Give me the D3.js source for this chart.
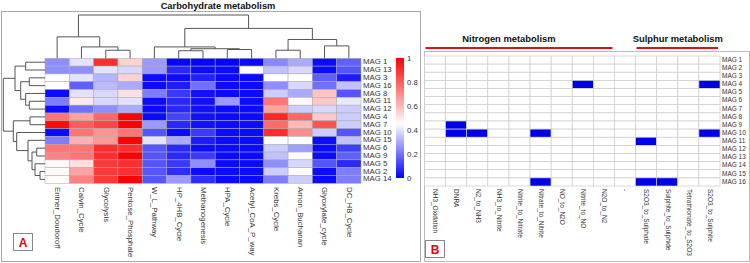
<!DOCTYPE html>
<html>
<head>
<meta charset="utf-8">
<script src="https://cdn.jsdelivr.net/npm/d3@7"></script>
<style>
body{margin:0;background:#fff}
svg{display:block;font-family:"Liberation Sans",Arial,sans-serif}
</style>
</head>
<body>
<div id="graph"></div>
<script>

// panel A: carbohydrate heatmap
var carbPathways = ['Entner_Doudoroff','Calvin_Cycle','Glycolysis','Pentose_Phosphate','W_L_Pathway','HP_4HB_Cycle',
  'Methanogenesis','HPA_Cycle','Acetyl_CoA_P_way','Krebs_Cycle','Arnon_Buchanan','Glyoxylate_cycle','DC_HB_Cycle']
var carbMags = ['MAG 1','MAG 13','MAG 3','MAG 16','MAG 8','MAG 11','MAG 12','MAG 4','MAG 7','MAG 10','MAG 15','MAG 6','MAG 9','MAG 5','MAG 2','MAG 14']
var carbValues = [
  [0.25,0.40,0.90,0.55,0.27,0.01,0.01,0.01,0.02,0.24,0.30,0.02,0.17],
  [0.25,0.25,0.40,0.38,0.27,0.07,0.02,0.02,0.45,0.34,0.38,0.02,0.15],
  [0.45,0.40,0.32,0.55,0.02,0.02,0.06,0.02,0.02,0.45,0.45,0.17,0.05],
  [0.45,0.17,0.33,0.30,0.02,0.05,0.20,0.02,0.02,0.25,0.38,0.20,0.34],
  [0.02,0.40,0.38,0.52,0.22,0.10,0.03,0.02,0.02,0.36,0.30,0.58,0.15],
  [0.22,0.50,0.38,0.40,0.02,0.07,0.03,0.27,0.02,0.75,0.46,0.57,0.41],
  [0.02,0.20,0.25,0.30,0.02,0.07,0.03,0.02,0.02,0.65,0.36,0.38,0.36],
  [0.75,0.65,0.78,1.00,0.02,0.12,0.03,0.02,0.02,0.92,0.78,0.57,0.36],
  [0.98,0.80,0.85,1.00,0.27,0.07,0.03,0.02,0.02,0.77,0.60,0.82,0.36],
  [0.02,0.75,0.68,0.75,0.15,0.02,0.10,0.02,0.02,0.90,0.70,0.36,0.15],
  [0.22,0.62,0.67,1.00,0.40,0.30,0.05,0.02,0.02,0.45,0.45,0.02,0.34],
  [0.75,0.75,0.90,0.90,0.15,0.07,0.02,0.02,0.02,0.36,0.28,0.02,0.11],
  [0.72,0.75,0.90,1.00,0.15,0.07,0.10,0.02,0.02,0.34,0.46,0.02,0.17],
  [0.46,0.52,0.88,0.90,0.15,0.10,0.25,0.02,0.02,0.25,0.38,0.15,0.07],
  [0.46,0.65,0.88,0.90,0.15,0.08,0.02,0.02,0.02,0.36,0.46,0.02,0.22],
  [0.46,0.72,0.88,1.00,0.15,0.27,0.08,0.02,0.02,0.22,0.36,0.02,0.22]
]
var legendTicks = [0, 0.2, 0.4, 0.6, 0.8, 1]

// dendrograms, h = merge height
var colTree = {h: 43, c: [
  {h: 21.3, c: ['Entner_Doudoroff', {h: 11.3, c: ['Calvin_Cycle', {h: 8, c: ['Glycolysis','Pentose_Phosphate']}]}]},
  {h: 29.7, c: [
    {h: 11.3, c: ['W_L_Pathway', {h: 9.5, c: [{h: 7.5, c: ['HP_4HB_Cycle','Methanogenesis']}, {h: 8.7, c: ['HPA_Cycle','Acetyl_CoA_P_way']}]}]},
    {h: 18.7, c: [{h: 8, c: ['Krebs_Cycle','Arnon_Buchanan']}, {h: 12.3, c: ['Glyoxylate_cycle','DC_HB_Cycle']}]}
  ]}
]}
var rowTree = {h: 41.7, c: [
  {h: 30, c: [{h: 19.3, c: ['MAG 1','MAG 13']},
    {h: 24.3, c: [{h: 15.7, c: ['MAG 3','MAG 16']}, {h: 19.3, c: ['MAG 8', {h: 15.7, c: ['MAG 11','MAG 12']}]}]}]},
  {h: 31.7, c: [{h: 15, c: ['MAG 4','MAG 7']},
    {h: 28.3, c: ['MAG 10', {h: 17, c: ['MAG 15', {h: 13, c: [{h: 8.3, c: ['MAG 6','MAG 9']},
      {h: 10, c: ['MAG 5', {h: 5, c: ['MAG 2','MAG 14']}]}]}]}]}]}
]}

// panel B: nitrogen / sulphur presence
var nsPathways = ['NH3_Oxidation','DNRA','N2_to_NH3','NH3_to_Nitrite','Nitrite_to_Nitrate','Nitrate_to_Nitrite','NO_to_N2O',
  'Nitrite_to_NO','N2O_to_N2','-','S2O3_to_Sulphate','Sulphite_to_Sulphide','Tetrathionate_to_S2O3','S2O3_to_Sulphite']
var nsMags = ['MAG 1','MAG 2','MAG 3','MAG 4','MAG 5','MAG 6','MAG 7','MAG 8','MAG 9','MAG 10','MAG 11','MAG 12','MAG 13','MAG 14','MAG 15','MAG 16']
var nsHits = [
  ['MAG 4','Nitrite_to_NO'], ['MAG 4','S2O3_to_Sulphite'],
  ['MAG 9','DNRA'], ['MAG 10','DNRA'], ['MAG 10','N2_to_NH3'], ['MAG 10','Nitrate_to_Nitrite'], ['MAG 10','S2O3_to_Sulphite'],
  ['MAG 11','S2O3_to_Sulphate'],
  ['MAG 16','Nitrate_to_Nitrite'], ['MAG 16','S2O3_to_Sulphate'], ['MAG 16','Sulphite_to_Sulphide']
]
var nsGroups = [
  {name: 'Nitrogen metabolism', first: 'NH3_Oxidation', last: 'N2O_to_N2', titleLast: 'Nitrite_to_NO'},
  {name: 'Sulphur metabolism', first: 'S2O3_to_Sulphate', last: 'S2O3_to_Sulphite', titleLast: 'S2O3_to_Sulphite'}
]

var svg = d3.select('#graph').append('svg').attr('width', 750).attr('height', 263)

// panel A frame
svg.append('rect').attr('x', 1.5).attr('y', 11.5).attr('width', 419).attr('height', 250)
  .attr('fill', 'none').attr('stroke', '#aaa')
svg.append('text').attr('x', 218).attr('y', 8.5).attr('text-anchor', 'middle')
  .attr('font-size', 9.3).attr('font-weight', 'bold').attr('fill', '#111').text('Carbohydrate metabolism')

var x = d3.scaleBand().domain(carbPathways).range([45, 361])
var y = d3.scaleBand().domain(carbMags).range([58.3, 183.3])
var color = d3.scaleLinear().domain([0, 0.45, 1]).range(['#0000ff', '#ffffff', '#ff0000'])

var cells = []
carbValues.forEach((row, i) => row.forEach((v, j) => cells.push({mag: carbMags[i], path: carbPathways[j], v: v})))

svg.append('g').selectAll('rect').data(cells).join('rect')
  .attr('x', d => x(d.path)).attr('y', d => y(d.mag))
  .attr('width', x.bandwidth()).attr('height', y.bandwidth())
  .attr('fill', d => color(d.v)).attr('stroke', '#aaa').attr('stroke-width', 0.5)

svg.append('g').selectAll('text').data(carbPathways).join('text')
  .attr('transform', d => 'translate(' + (x(d) + x.bandwidth() / 2) + ',187) rotate(90)')
  .attr('dominant-baseline', 'middle').attr('font-size', 7.8).attr('fill', '#333').text(d => d)

svg.append('g').selectAll('text').data(carbMags).join('text')
  .attr('x', 363).attr('y', d => y(d) + y.bandwidth() / 2)
  .attr('dominant-baseline', 'middle').attr('font-size', 7.8).attr('fill', '#333').text(d => d)

function drawTree(tree, leafPos, hScale, vertical) {
  var root = d3.hierarchy(tree, d => d.c)
  root.eachAfter(n => {
    n.pos = n.children ? d3.mean(n.children, c => c.pos) : leafPos(n.data)
    n.ht = n.children ? n.data.h : 0
  })
  var pt = (p, h) => vertical ? [p, hScale(h)] : [hScale(h), p]
  var paths = root.descendants().filter(n => n.children).map(n => {
    var a = n.children[0], b = n.children[1]
    return [pt(a.pos, a.ht), pt(a.pos, n.ht), pt(b.pos, n.ht), pt(b.pos, b.ht)]
  })
  svg.append('g').selectAll('path').data(paths).join('path')
    .attr('d', d3.line()).attr('fill', 'none').attr('stroke', '#555').attr('stroke-width', 1)
}
drawTree(colTree, d => x(d) + x.bandwidth() / 2, d3.scaleLinear().domain([0, 43]).range([58.3, 15]), true)
drawTree(rowTree, d => y(d) + y.bandwidth() / 2, d3.scaleLinear().domain([0, 41.7]).range([45, 3.3]), false)

// colour key
var ly = d3.scaleLinear().domain([0, 1]).range([179, 59])
var grad = svg.append('defs').append('linearGradient').attr('id', 'key')
  .attr('x1', 0).attr('y1', 1).attr('x2', 0).attr('y2', 0)
grad.selectAll('stop').data(d3.range(0, 1.001, 0.05)).join('stop')
  .attr('offset', d => d).attr('stop-color', d => color(d))
svg.append('rect').attr('x', 396).attr('y', ly(1) - 1).attr('width', 8).attr('height', ly(0) - ly(1))
  .attr('fill', 'url(#key)')
svg.append('g').selectAll('text').data(legendTicks).join('text')
  .attr('x', 407).attr('y', d => ly(d)).attr('dominant-baseline', 'middle')
  .attr('font-size', 7.8).attr('fill', '#333').text(d => d)

// A tag
svg.append('rect').attr('x', 13.5).attr('y', 233.5).attr('width', 19).attr('height', 17)
  .attr('fill', '#fff').attr('stroke', '#888')
svg.append('text').attr('x', 23).attr('y', 246.5).attr('text-anchor', 'middle')
  .attr('font-size', 12).attr('font-weight', 'bold').attr('fill', '#e00').text('A')

// panel B
var bx = d3.scaleBand().domain(nsPathways).range([424.5, 720])
var by = d3.scaleBand().domain(nsMags).range([56, 186])
var hitSet = new Set(nsHits.map(d => d[0] + '|' + d[1]))

svg.append('rect').attr('x', 424.5).attr('y', 51.5).attr('width', 325).attr('height', 210)
  .attr('fill', 'none').attr('stroke', '#bbb')

var bCells = []
nsMags.forEach(m => nsPathways.forEach(p => bCells.push({mag: m, path: p, on: hitSet.has(m + '|' + p)})))
svg.append('g').selectAll('rect').data(bCells).join('rect')
  .attr('x', d => bx(d.path)).attr('y', d => by(d.mag))
  .attr('width', bx.bandwidth()).attr('height', by.bandwidth())
  .attr('fill', d => d.on ? '#0000e8' : '#fff').attr('stroke', '#ccc').attr('stroke-width', 0.7)

svg.append('g').selectAll('text').data(nsPathways).join('text')
  .attr('transform', d => 'translate(' + (bx(d) + bx.bandwidth() / 2) + ',189) rotate(90)')
  .attr('dominant-baseline', 'middle').attr('font-size', 6.5).attr('fill', '#333').text(d => d)

svg.append('g').selectAll('text').data(nsMags).join('text')
  .attr('x', 722).attr('y', d => by(d) + by.bandwidth() / 2)
  .attr('dominant-baseline', 'middle').attr('font-size', 6.5).attr('fill', '#333').text(d => d)

var grp = svg.append('g').selectAll('g').data(nsGroups).join('g')
grp.append('line')
  .attr('x1', d => bx(d.first) + 1).attr('x2', d => bx(d.last) + bx.bandwidth() - 2)
  .attr('y1', 48).attr('y2', 48).attr('stroke', '#e01010').attr('stroke-width', 2.2)
grp.append('text')
  .attr('x', d => (bx(d.first) + bx(d.titleLast) + bx.bandwidth()) / 2).attr('y', 41.5)
  .attr('text-anchor', 'middle').attr('font-size', 9.4).attr('font-weight', 'bold').attr('fill', '#111')
  .text(d => d.name)

svg.append('rect').attr('x', 425.5).attr('y', 240.5).attr('width', 19).attr('height', 17)
  .attr('fill', '#fff').attr('stroke', '#888')
svg.append('text').attr('x', 435).attr('y', 253.5).attr('text-anchor', 'middle')
  .attr('font-size', 12).attr('font-weight', 'bold').attr('fill', '#e00').text('B')

</script>
</body>
</html>
